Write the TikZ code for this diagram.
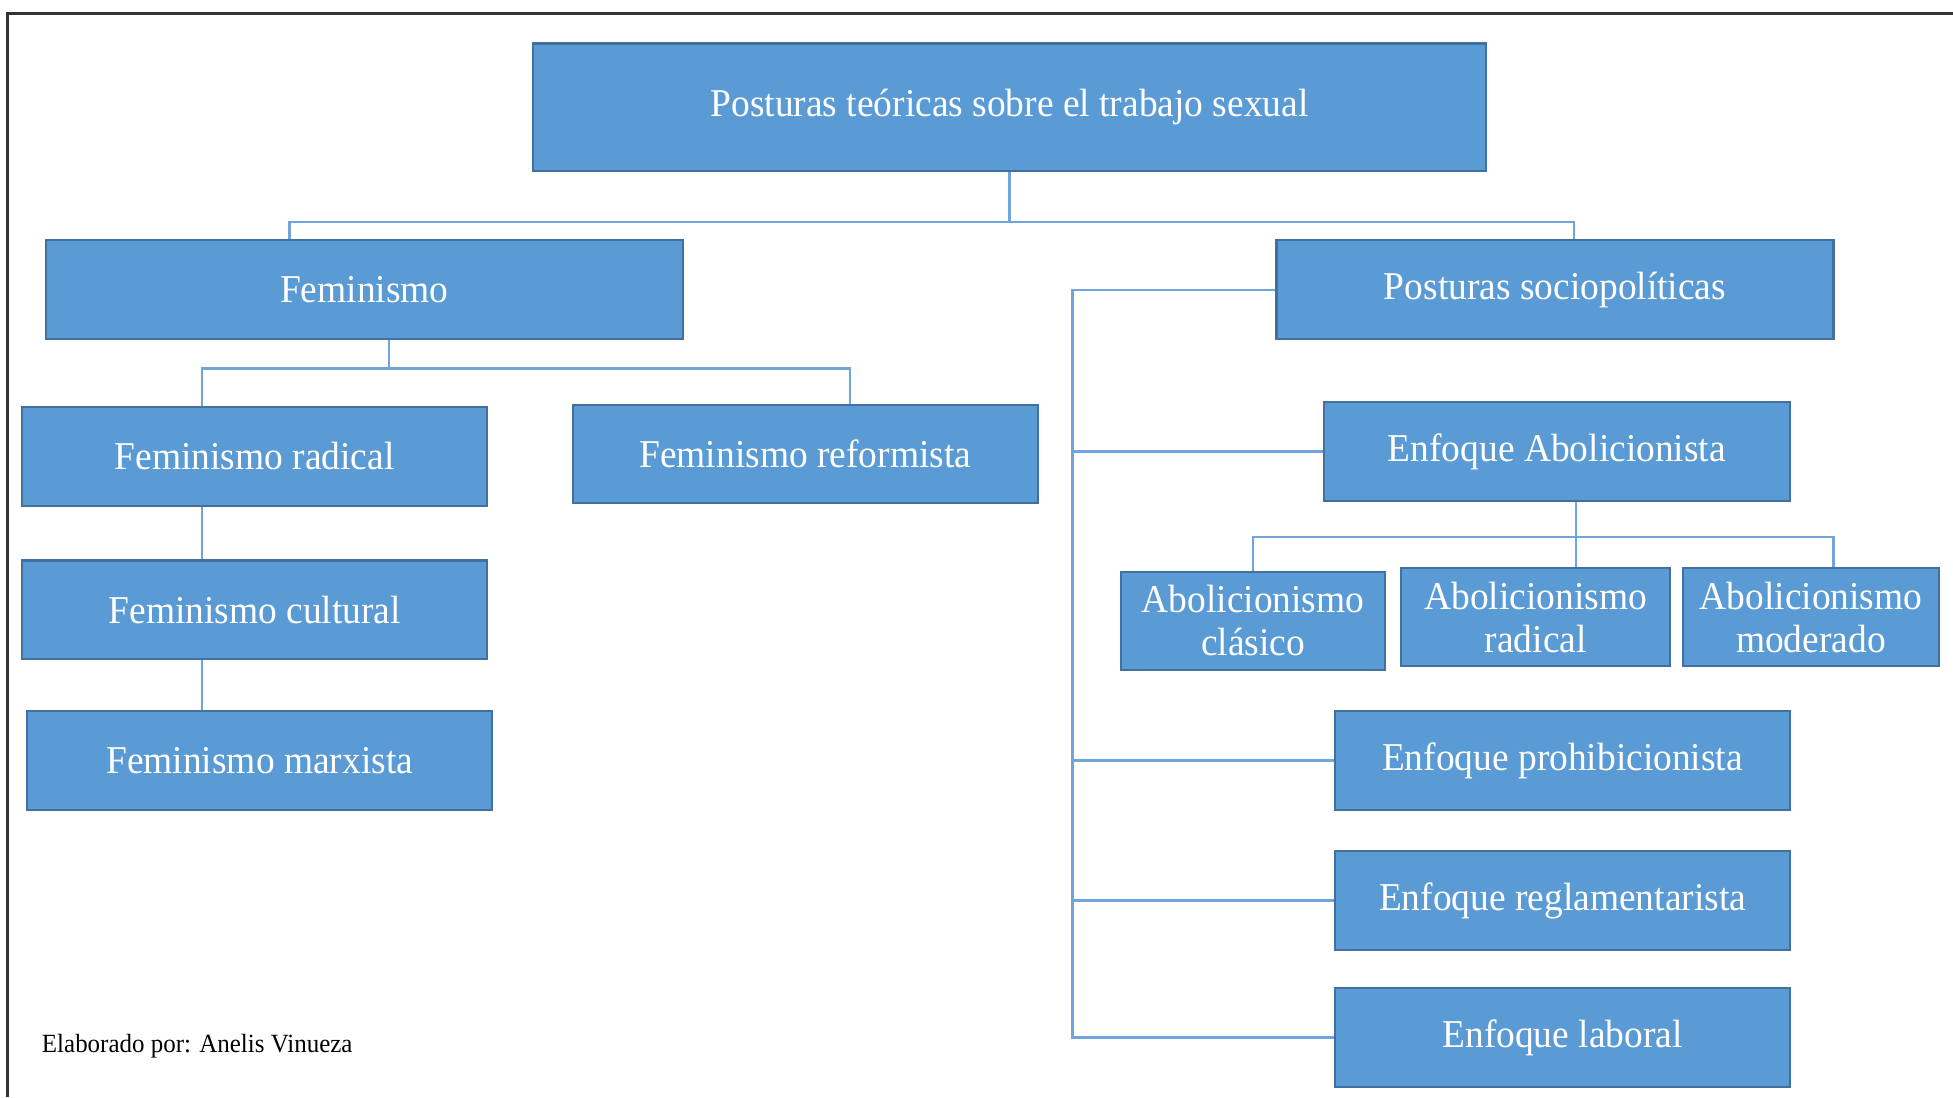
\documentclass[tikz,border=0pt]{standalone}
\usepackage{fontspec}
\setmainfont{Liberation Serif}[FakeStretch=0.95]
\usepackage{tikz}
\usetikzlibrary{calc}
\definecolor{boxfill}{HTML}{5B9BD5}
\definecolor{boxline}{HTML}{41719C}
\definecolor{linkcol}{HTML}{6FA5DA}
\tikzset{
    mybox/.style={
        inner sep=0,
        draw=boxline,
        line width=0.5pt,
        fill=boxfill,
        text=white,
        align=center,
        font=\fontsize{9}{9.8}\selectfont,
        minimum height=0.79cm,
    },
    link/.style={
        draw=linkcol,
        line width=0.5pt,
    },
}

\begin{document}
\begin{tikzpicture}[x=0.01cm, y=-0.01cm]
            \useasboundingbox (0,0) rectangle (1568,881);
            \draw[line width=0.6pt, black!80] (6,881) -- (6,11) -- (1568,11);

            \node[mybox, minimum width=7.65cm, minimum height=1.02cm] at (810.5, 86) (top) {Posturas teóricas sobre el trabajo sexual};

            \node[mybox, minimum width=5.11cm] at (292.5, 232.5)  (fem)   {Feminismo};
            \node[mybox, minimum width=4.47cm] at (1248.5, 232.5) (socio) {Posturas sociopolíticas};

            \node[mybox, minimum width=3.73cm] at (204.5, 366.5) (frad) {Feminismo radical};
            \node[mybox, minimum width=3.73cm] at (646.5, 364.5) (fref) {Feminismo reformista};
            \node[mybox, minimum width=3.73cm] at (204.5, 489.5) (fcul) {Feminismo cultural};
            \node[mybox, minimum width=3.73cm] at (208.5, 610.5) (fmar) {Feminismo marxista};

            \node[mybox, minimum width=3.74cm] at (1250, 362.5) (abo)  {Enfoque Abolicionista};
            \node[mybox, minimum width=2.12cm] at (1006, 498.5) (acla) {Abolicionismo\\clásico};
            \node[mybox, minimum width=2.16cm] at (1233, 495.5) (arad) {Abolicionismo\\radical};
            \node[mybox, minimum width=2.06cm] at (1454, 495.5) (amod) {Abolicionismo\\moderado};

            \node[mybox, minimum width=3.65cm] at (1254.5, 610.5) (proh) {Enfoque prohibicionista};
            \node[mybox, minimum width=3.65cm] at (1254.5, 723)   (regl) {Enfoque reglamentarista};
            \node[mybox, minimum width=3.65cm] at (1254.5, 833)   (lab)  {Enfoque laboral};

            \node[anchor=west, inner sep=0, font=\fontsize{6}{7}\selectfont] at (33, 840) (credit) {Elaborado por: Anelis Vinueza};

            \draw[link] (top.south) -- ++(0,40) coordinate (j1);
            \draw[link] ($(fem.north)+(-60,0)$) |- (j1) -| ($(socio.north)+(15,0)$);

            \draw[link] ($(fem.south)+(20,0)$) -- ++(0,23) coordinate (j2);
            \draw[link] ($(frad.north)+(-42,0)$) |- (j2) -| ($(fref.north)+(36,0)$);
            \draw[link] ($(frad.south)+(-42,0)$) -- ($(fcul.north)+(-42,0)$);
            \draw[link] ($(fcul.south)+(-42,0)$) -- ($(fmar.north)+(-46,0)$);

            \coordinate (spine) at (861, 0);
            \draw[link] (socio.west) -| (spine |- lab.west) -- (lab.west);
            \foreach \n in {abo, proh, regl}
                \draw[link] (spine |- \n.west) -- (\n.west);

            \draw[link] ($(abo.south)+(15,0)$) -- ($(arad.north)+(32,0)$);
            \draw[link] (acla.north) |- ($(abo.south)+(15,28)$) -| ($(amod.north)+(18,0)$);
        \end{tikzpicture}
\end{document}
